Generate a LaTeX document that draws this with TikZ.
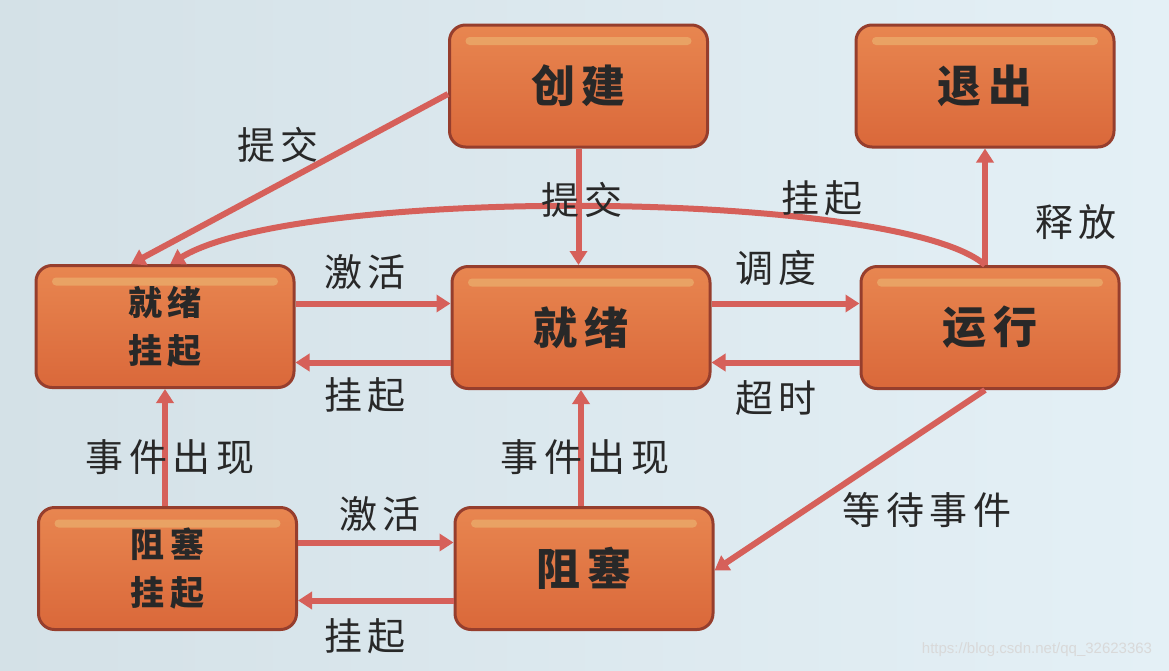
\documentclass[tikz,border=0pt]{standalone}
\usepackage{fontspec}
\newfontfamily\cjk[LetterSpace=15]{Noto Sans CJK SC}
\newfontfamily\wmfont{Liberation Sans}
\usetikzlibrary{arrows.meta,calc}
\definecolor{bgl}{RGB}{212,225,231}
\definecolor{bgr}{RGB}{228,240,246}
\definecolor{boxtop}{RGB}{232,134,80}
\definecolor{boxbot}{RGB}{218,104,58}
\definecolor{boxedge}{RGB}{150,62,45}
\definecolor{hl}{RGB}{236,184,116}
\definecolor{arr}{RGB}{214,96,90}
\definecolor{txt}{RGB}{40,40,40}
\tikzset{
  state/.style={rounded corners=16pt, draw=boxedge, line width=3pt,
    top color=boxtop, bottom color=boxbot,
    minimum width=258pt, minimum height=122pt, text=txt,
    font=\cjk\bfseries\fontsize{44}{52}\selectfont,
    path picture={\fill[hl, opacity=0.6, rounded corners=4pt]
      ($(path picture bounding box.north west)+(16,12)$) rectangle
      ($(path picture bounding box.north east)+(-16,20)$);}},
  smallstate/.style={state, align=center,
    font=\cjk\bfseries\fontsize{34}{48}\selectfont},
  lbl/.style={font=\cjk\fontsize{38}{44}\selectfont, text=txt, inner sep=0pt},
  conn/.style={draw=arr, line width=6pt,
    -{Triangle[length=14pt,width=17pt]}},
}
\begin{document}
\begin{tikzpicture}[x=1pt,y=-1pt]
\fill[left color=bgl, right color=bgr] (0,0) rectangle (1169,670);
\useasboundingbox (0,0) rectangle (1169,670);

% nodes
\node[state] (cj) at (578.5,86) {创建};
\node[state] (tc) at (985,86) {退出};
\node[smallstate] (rs) at (165,326.5) {就绪\\挂起};
\node[state] (jx) at (581,327.5) {就绪};
\node[state] (yx) at (990,327.5) {运行};
\node[smallstate] (zs) at (167.5,568.5) {阻塞\\挂起};
\node[state] (zb) at (584,568.5) {阻塞};

% connectors
\draw[conn] ($(cj.west)+(0,8)$) -- ($(rs.north west)!0.37!(rs.north east)$);
\draw[conn] (cj.south) -- (cj.south |- jx.north);
\draw[conn] (tc.south |- yx.north) .. controls (900,190) and (300,185) ..
  ($(rs.north west)!0.52!(rs.north east)$);
\draw[conn] (tc.south |- yx.north) -- (tc.south);
\draw[conn] ($(rs.east)+(0,-23)$) -- ($(jx.west)+(0,-24)$);
\draw[conn] ($(jx.west)+(0,35)$) -- ($(rs.east)+(0,36)$);
\draw[conn] ($(jx.east)+(0,-24)$) -- ($(yx.west)+(0,-24)$);
\draw[conn] ($(yx.west)+(0,35)$) -- ($(jx.east)+(0,35)$);
\draw[conn] (rs.south |- zs.north) -- (rs.south);
\draw[conn] (jx.south |- zb.north) -- (jx.south);
\draw[conn] (tc.south |- yx.south) -- ($(zb.east)+(0,2)$);
\draw[conn] ($(zs.east)+(0,-26)$) -- ($(zb.west)+(0,-26)$);
\draw[conn] ($(zb.west)+(0,32)$) -- ($(zs.east)+(0,32)$);

% labels
\node[lbl] (l1) at (278,145) {提交};
\node[lbl] (l2) at (582,200) {提交};
\node[lbl] (l3) at (822,198) {挂起};
\node[lbl] (l4) at (1076,222) {释放};
\node[lbl] (l5) at (365,272) {激活};
\node[lbl] (l6) at (776,268) {调度};
\node[lbl] (l7) at (365,395) {挂起};
\node[lbl] (l8) at (776,398) {超时};
\node[lbl] (l9) at (170,457) {事件出现};
\node[lbl] (l10) at (585,457) {事件出现};
\node[lbl] (l11) at (927,510) {等待事件};
\node[lbl] (l12) at (380,514) {激活};
\node[lbl] (l13) at (365,636) {挂起};

\node[font=\wmfont\fontsize{15}{18}\selectfont, text=white!70!gray, inner sep=0pt]
  (wm) at (1037,650) {https://blog.csdn.net/qq\_32623363};
\end{tikzpicture}
\end{document}
